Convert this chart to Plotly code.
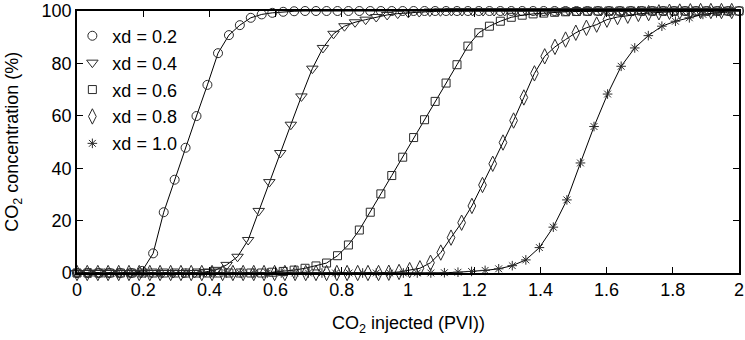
import plotly.graph_objects as go

# ---- data ----
labels = ["xd = 0.2", "xd = 0.4", "xd = 0.6", "xd = 0.8", "xd = 1.0"]

x_02 = [0.000, 0.033, 0.066, 0.098, 0.131, 0.164, 0.197, 0.230, 0.262, 0.295,
        0.328, 0.361, 0.394, 0.426, 0.459, 0.492, 0.525, 0.558, 0.590, 0.623,
        0.656, 0.689, 0.722, 0.754, 0.787, 0.820, 0.853, 0.886, 0.918, 0.951,
        0.984, 1.017, 1.050, 1.082, 1.115, 1.148, 1.181, 1.214, 1.246, 1.279,
        1.312, 1.345, 1.378, 1.410, 1.443, 1.476, 1.509, 1.542, 1.574, 1.607,
        1.640, 1.673, 1.706, 1.738, 1.771, 1.804, 1.837, 1.870, 1.902, 1.935,
        1.968, 2.000]
y_02 = [0, 0, 0, 0, 0, 0, 0.8, 7.5, 23.2, 35.6,
        47.8, 59.9, 71.8, 83.9, 90.8, 94.6, 97.4, 98.7, 99.3, 99.7,
        99.9, 100, 100, 100, 100, 100, 100, 100, 100, 100,
        100, 100, 100, 100, 100, 100, 100, 100, 100, 100,
        100, 100, 100, 100, 100, 100, 100, 100, 100, 100,
        100, 100, 100, 100, 100, 100, 100, 100, 100, 100,
        100, 100]

x_04 = [0.000, 0.032, 0.065, 0.097, 0.129, 0.162, 0.194, 0.226, 0.258, 0.291,
        0.323, 0.355, 0.388, 0.420, 0.452, 0.485, 0.517, 0.549, 0.581, 0.614,
        0.646, 0.678, 0.711, 0.743, 0.775, 0.808, 0.840, 0.872, 0.904, 0.937,
        0.969, 1.001, 1.034, 1.066, 1.098, 1.131, 1.163, 1.195, 1.227, 1.260,
        1.292, 1.324, 1.357, 1.389, 1.421, 1.454, 1.486, 1.518, 1.550, 1.583,
        1.615, 1.647, 1.680, 1.712, 1.744, 1.777, 1.809, 1.841, 1.873, 1.906,
        1.938, 1.970]
y_04 = [0, 0, 0, 0, 0, 0, 0, 0, 0, 0,
        0, 0, 0.4, 1.2, 3.1, 6.2, 12.6, 23.7, 34.7, 45.8,
        56.6, 67.4, 78.0, 85.9, 91.3, 94.2, 95.7, 96.7, 97.7, 98.5,
        99.0, 99.3, 99.6, 99.8, 99.9, 100, 100, 100, 100, 100,
        100, 100, 100, 100, 100, 100, 100, 100, 100, 100,
        100, 100, 100, 100, 100, 100, 100, 100, 100, 100,
        100, 100]

x_06 = x_02
y_06 = [0, 0, 0, 0, 0, 0, 0, 0, 0, 0,
        0, 0, 0, 0, 0, 0, 0, 0, 0.3, 0.6,
        1.1, 1.8, 2.7, 3.8, 6.6, 10.7, 16.4, 23.2, 30.2, 37.2,
        44.2, 51.7, 58.5, 65.5, 72.5, 79.5, 86.6, 91.7, 94.2, 96.1,
        97.6, 98.4, 98.9, 99.2, 99.5, 99.7, 99.8, 99.9, 100, 100,
        100, 100, 100, 100, 100, 100, 100, 100, 100, 100,
        100, 100]

x_08 = [0.000, 0.031, 0.063, 0.094, 0.126, 0.157, 0.188, 0.220, 0.251, 0.283,
        0.314, 0.345, 0.377, 0.408, 0.440, 0.471, 0.502, 0.534, 0.565, 0.597,
        0.628, 0.659, 0.691, 0.722, 0.754, 0.785, 0.816, 0.848, 0.879, 0.911,
        0.942, 0.973, 1.005, 1.036, 1.068, 1.099, 1.130, 1.162, 1.193, 1.225,
        1.256, 1.287, 1.319, 1.350, 1.382, 1.413, 1.444, 1.476, 1.507, 1.539,
        1.570, 1.601, 1.633, 1.664, 1.696, 1.727, 1.758, 1.790, 1.821, 1.853,
        1.884, 1.915, 1.947, 1.978]
y_08 = [0, 0, 0, 0, 0, 0, 0, 0, 0, 0,
        0, 0, 0, 0, 0, 0, 0, 0, 0, 0,
        0, 0, 0, 0, 0, 0, 0, 0, 0, 0,
        0.1, 0.4, 1.1, 1.8, 3.9, 7.8, 13.5, 19.2, 25.6, 33.6,
        41.7, 49.8, 58.2, 67.0, 76.2, 82.7, 86.3, 89.1, 91.7, 93.6,
        94.8, 96.7, 97.7, 98.2, 98.9, 99.2, 99.5, 99.7, 99.8, 99.9,
        100, 100, 100, 100]

x_10 = [0.000, 0.041, 0.082, 0.123, 0.164, 0.206, 0.247, 0.288, 0.329, 0.370,
        0.411, 0.452, 0.493, 0.534, 0.575, 0.617, 0.658, 0.699, 0.740, 0.781,
        0.822, 0.863, 0.904, 0.945, 0.986, 1.028, 1.069, 1.110, 1.151, 1.192,
        1.233, 1.274, 1.315, 1.356, 1.397, 1.439, 1.480, 1.521, 1.562, 1.603,
        1.644, 1.685, 1.726, 1.767, 1.808, 1.850, 1.891, 1.932, 1.973]
y_10 = [0, 0, 0, 0, 0, 0, 0, 0, 0, 0,
        0, 0, 0, 0, 0, 0, 0, 0, 0, 0,
        0, 0, 0, 0, 0, 0, 0, 0.1, 0.3, 0.6,
        1.0, 1.6, 2.8, 5.0, 9.7, 17.5, 27.9, 42.0, 55.9, 68.3,
        78.9, 85.9, 90.6, 94.2, 96.1, 97.4, 98.7, 99.3, 99.7]

x_ticks = [0, 0.2, 0.4, 0.6, 0.8, 1, 1.2, 1.4, 1.6, 1.8, 2]
x_ticktext = ["0", "0.2", "0.4", "0.6", "0.8", "1", "1.2", "1.4", "1.6", "1.8", "2"]
y_ticks = [0, 20, 40, 60, 80, 100]

series = [(x_02, y_02), (x_04, y_04), (x_06, y_06), (x_08, y_08), (x_10, y_10)]
symbols = ["circle-open", "triangle-down-open", "square-open", "diamond-tall-open", "asterisk-open"]
sizes = [9, 10, 8, 11, 8]

FONT = "Liberation Sans, Arial, sans-serif"
FS = 18
MK = "#2a2a2a"

fig = go.Figure()
for (xs, ys), sym, sz, lab in zip(series, symbols, sizes, labels):
    fig.add_trace(go.Scatter(
        x=xs, y=ys, mode="lines+markers", showlegend=False, cliponaxis=False,
        line=dict(color="black", width=1),
        marker=dict(symbol=sym, size=sz, color=MK, line=dict(color=MK, width=1)),
    ))
for i, (sym, sz, lab) in enumerate(zip(symbols, sizes, labels)):
    fig.add_trace(go.Scatter(
        x=[None], y=[None], mode="markers", name=lab, legendgroup="g%d" % i,
        marker=dict(symbol=sym, size=sz, color=MK, line=dict(color=MK, width=1)),
    ))

axis_common = dict(
    showline=True, linecolor="black", linewidth=1.5, mirror="ticks",
    ticks="inside", ticklen=6, tickwidth=1, tickcolor="black",
    showgrid=False, zeroline=False, ticklabeloverflow="allow",
    tickfont=dict(family=FONT, size=FS, color="black"),
)

fig.update_layout(
    width=745, height=340,
    margin=dict(l=77, r=1, t=11, b=67),
    paper_bgcolor="white", plot_bgcolor="white",
    font=dict(family=FONT, size=FS, color="black"),
    xaxis=dict(range=[0, 2], tickvals=x_ticks, ticktext=x_ticktext, **axis_common),
    yaxis=dict(range=[0, 100], tickvals=y_ticks, **axis_common),
    legend=dict(x=-0.007, y=0.975, xanchor="left", yanchor="top",
                bgcolor="rgba(0,0,0,0)", tracegroupgap=0.5,
                font=dict(family=FONT, size=FS, color="black"),
                itemwidth=30),
    annotations=[
        dict(text="CO<sub>2</sub> injected (PVI))", xref="paper", yref="paper",
             x=0.5, y=-0.145, xanchor="center", yanchor="top", showarrow=False,
             font=dict(family=FONT, size=FS, color="black")),
        dict(text="CO<sub>2</sub> concentration (%)", xref="paper", yref="paper",
             x=-0.097, y=0.5, xanchor="center", yanchor="middle", textangle=-90,
             showarrow=False, font=dict(family=FONT, size=FS, color="black")),
    ],
)

fig.write_html("out.html")
